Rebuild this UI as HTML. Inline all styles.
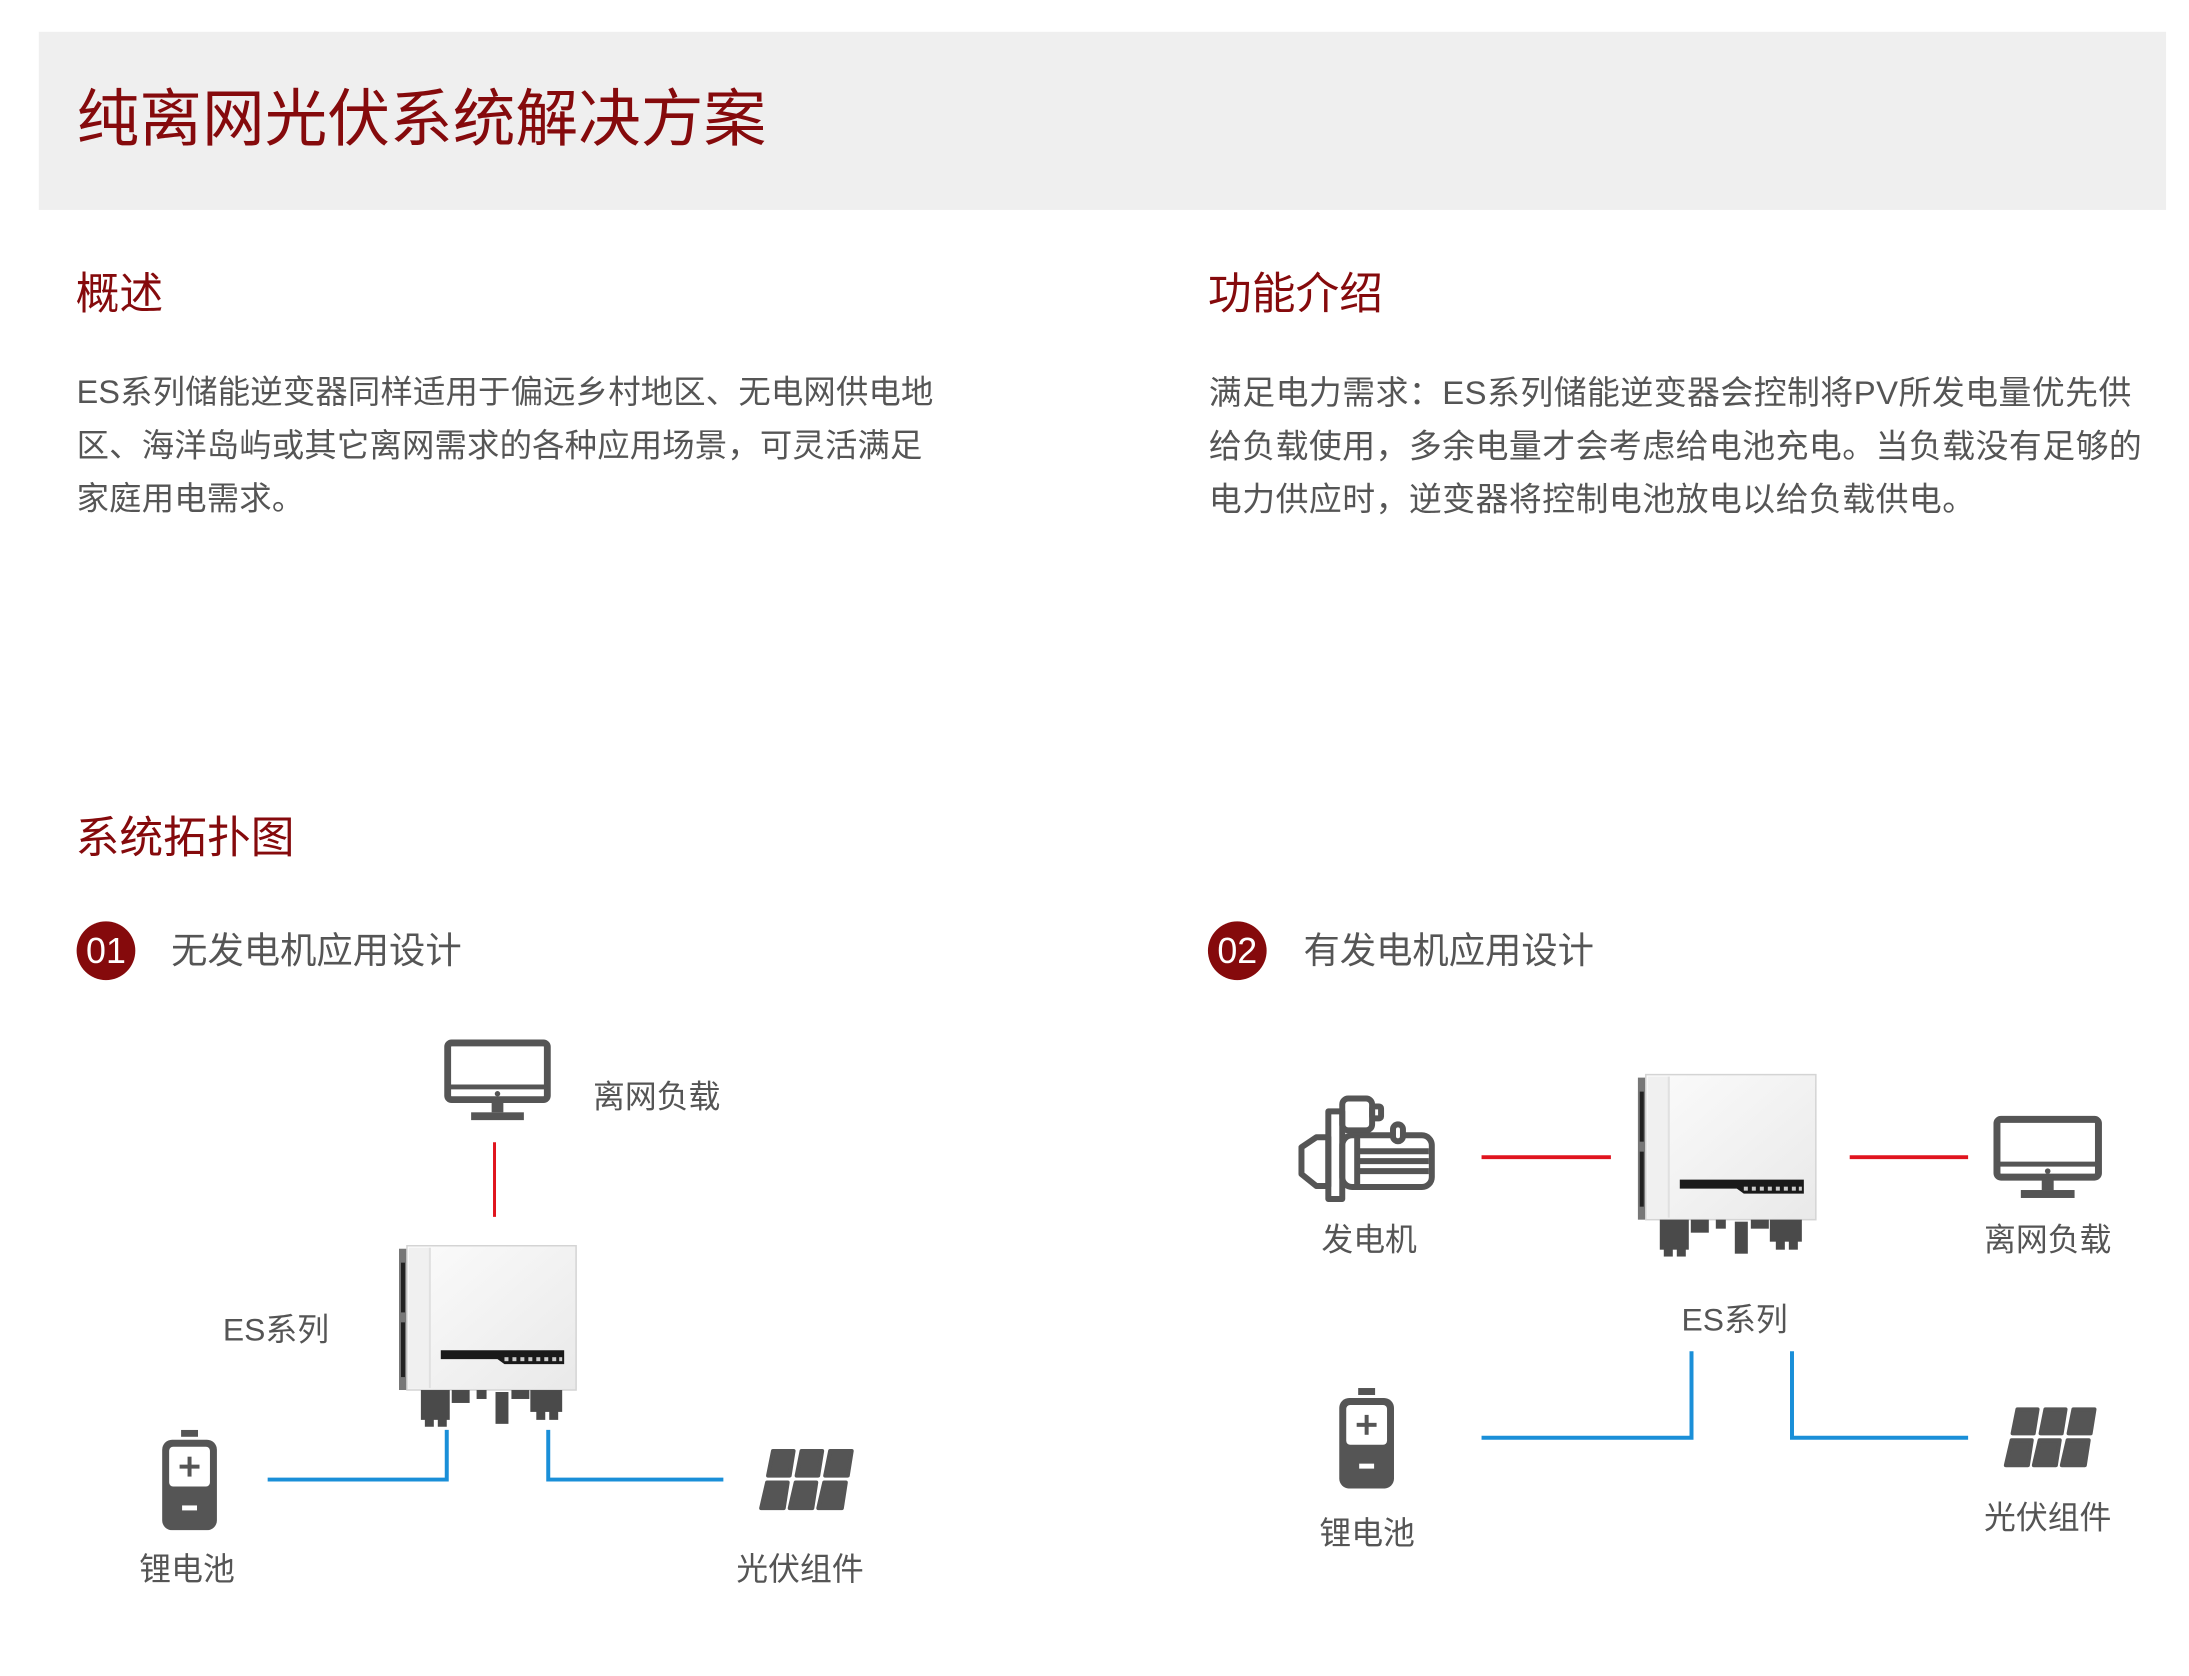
<!DOCTYPE html>
<html><head><meta charset="utf-8">
<style>
html,body{margin:0;padding:0;background:#fff;}
body{width:2189px;height:1676px;position:relative;overflow:hidden;font-family:"Liberation Sans","Noto Sans CJK SC",sans-serif;}
#w{position:absolute;left:0;top:0;width:2189px;height:1676px;transform:scale(0.995);transform-origin:0 0;}
.t{position:absolute;white-space:nowrap;}
.red{color:#850a0c;}
.g{color:#555;}
.band{position:absolute;left:39px;top:32px;width:2138px;height:179px;background:#efefef;}
.circ{position:absolute;width:59px;height:59px;border-radius:50%;background:#850a0c;color:#fff;font-size:36px;line-height:59px;text-align:center;}
svg{position:absolute;left:0;top:0;}
</style></head><body><div id="w">
<div class="band"></div>
<div class="t red" style="left:77px;top:89px;font-size:63px;line-height:63px;">纯离网光伏系统解决方案</div>
<div class="t red" style="left:76px;top:274px;font-size:44px;line-height:44px;">概述</div>
<div class="t red" style="left:1214px;top:274px;font-size:44px;line-height:44px;">功能介绍</div>
<div class="t g" style="left:77px;top:368px;font-size:32.5px;line-height:53.5px;letter-spacing:0.2px;">ES系列储能逆变器同样适用于偏远乡村地区、无电网供电地<br>区、海洋岛屿或其它离网需求的各种应用场景，可灵活满足<br>家庭用电需求。</div>
<div class="t g" style="left:1215px;top:368px;font-size:33px;line-height:53.5px;letter-spacing:0.5px;">满足电力需求：ES系列储能逆变器会控制将PV所发电量优先供<br>给负载使用，多余电量才会考虑给电池充电。当负载没有足够的<br>电力供应时，逆变器将控制电池放电以给负载供电。</div>
<div class="t red" style="left:76px;top:821px;font-size:44px;line-height:44px;">系统拓扑图</div>
<div class="circ" style="left:77px;top:926px;">01</div>
<div class="t g" style="left:172px;top:937px;font-size:36.5px;line-height:37px;">无发电机应用设计</div>
<div class="circ" style="left:1214px;top:926px;">02</div>
<div class="t g" style="left:1310px;top:937px;font-size:36.5px;line-height:37px;">有发电机应用设计</div>

<div class="t g" style="left:596px;top:1086px;font-size:32px;line-height:32px;">离网负载</div>
<div class="t g" style="left:224px;top:1320px;font-size:32px;line-height:32px;">ES系列</div>
<div class="t g" style="left:140px;top:1561px;font-size:32px;line-height:32px;">锂电池</div>
<div class="t g" style="left:740px;top:1561px;font-size:32px;line-height:32px;">光伏组件</div>

<div class="t g" style="left:1328px;top:1230px;font-size:32px;line-height:32px;">发电机</div>
<div class="t g" style="left:1994px;top:1230px;font-size:32px;line-height:32px;">离网负载</div>
<div class="t g" style="left:1690px;top:1310px;font-size:32px;line-height:32px;">ES系列</div>
<div class="t g" style="left:1326px;top:1525px;font-size:32px;line-height:32px;">锂电池</div>
<div class="t g" style="left:1994px;top:1509px;font-size:32px;line-height:32px;">光伏组件</div>

<svg width="2189" height="1676" viewBox="0 0 2189 1676">
<defs>
<linearGradient id="gb" x1="0" y1="0" x2="1" y2="1"><stop offset="0" stop-color="#fbfbfb"/><stop offset="1" stop-color="#e9e9e9"/></linearGradient>
<symbol id="inv" viewBox="0 0 180 185">
<rect x="0" y="6" width="10" height="142" fill="#777"/>
<rect x="2" y="20" width="4" height="50" fill="#222"/>
<rect x="2" y="80" width="4" height="55" fill="#222"/>
<rect x="8" y="3" width="170" height="145" fill="url(#gb)" stroke="#d4d4d4" stroke-width="1.5"/>
<rect x="10" y="5" width="22" height="141" fill="#f0f0f0"/>
<rect x="30" y="5" width="2" height="141" fill="#e0e0e0"/>
<path d="M42 108 H166 V122 H106 L99 117 H42 Z" fill="#1a1a1a"/>
<g fill="#ccc"><rect x="106" y="115" width="4" height="4"/><rect x="114" y="115" width="4" height="4"/><rect x="122" y="115" width="4" height="4"/><rect x="130" y="115" width="4" height="4"/><rect x="138" y="115" width="4" height="4"/><rect x="146" y="115" width="4" height="4"/><rect x="154" y="115" width="4" height="4"/><rect x="161" y="115" width="3" height="4"/></g>
<g fill="#4a4a4a">
<rect x="22" y="148" width="29" height="30"/><rect x="26" y="176" width="9" height="9"/><rect x="39" y="176" width="9" height="9"/>
<rect x="53" y="148" width="18" height="13"/>
<rect x="78" y="148" width="10" height="9"/>
<rect x="97" y="150" width="13" height="32"/>
<rect x="113" y="148" width="18" height="9"/>
<rect x="132" y="148" width="32" height="22"/><rect x="138" y="168" width="9" height="10"/><rect x="151" y="168" width="9" height="10"/>
</g>
</symbol>
<symbol id="mon" viewBox="0 0 110 84">
<rect x="4" y="4" width="102" height="58" rx="4" fill="none" stroke="#555" stroke-width="7"/>
<line x1="4" y1="49" x2="106" y2="49" stroke="#555" stroke-width="5"/>
<circle cx="55" cy="56" r="2.8" fill="#555"/>
<rect x="49" y="62" width="12" height="13" fill="#555"/>
<rect x="28" y="75" width="54" height="8" fill="#555"/>
</symbol>
<symbol id="bat" viewBox="0 0 59 101">
<rect x="21" y="0" width="17" height="7" fill="#555"/>
<rect x="2" y="10" width="55" height="91" rx="10" fill="#555"/>
<rect x="9" y="17" width="41" height="40" rx="4" fill="#fff"/>
<rect x="27.5" y="27" width="4" height="20" fill="#555"/>
<rect x="19.5" y="35" width="20" height="4" fill="#555"/>
<rect x="22" y="76" width="15" height="5" fill="#fff"/>
</symbol>
<symbol id="sol" viewBox="0 0 100 64">
<g fill="#555" stroke="#555" stroke-width="4" stroke-linejoin="round">
<polygon points="17,3 38,3 34,28 12,28"/><polygon points="46,3 67,3 63,28 41,28"/><polygon points="75,3 97,3 93,28 70,28"/>
<polygon points="11,35 32,35 28,61 5,61"/><polygon points="40,35 61,35 57,61 34,61"/><polygon points="69,35 91,35 87,61 63,61"/>
</g>
</symbol>
</defs>

<use href="#mon" x="446" y="1044" width="108" height="83"/>
<line x1="497" y1="1148" x2="497" y2="1223" stroke="#e0141e" stroke-width="3"/>
<use href="#inv" x="401" y="1249" width="180" height="185"/>
<polyline points="449,1437 449,1487 269,1487" fill="none" stroke="#1a8fd8" stroke-width="4"/>
<polyline points="551,1437 551,1487 727,1487" fill="none" stroke="#1a8fd8" stroke-width="4"/>
<use href="#bat" x="161" y="1437" width="59" height="101"/>
<use href="#sol" x="760" y="1455" width="99" height="64"/>

<g transform="translate(1298,1095)" fill="none" stroke="#555" stroke-width="6" stroke-linejoin="round">
<polygon points="10,58 25,48 37,48 37,97 25,97 10,85"/>
<rect x="37" y="22" width="14" height="88"/>
<rect x="51" y="9" width="30" height="32" rx="6"/>
<rect x="81" y="17" width="9" height="12" rx="2"/>
<rect x="51" y="46" width="90" height="52" rx="10"/>
<line x1="66" y1="46" x2="66" y2="98"/>
<line x1="66" y1="62" x2="138" y2="62"/>
<line x1="66" y1="72" x2="138" y2="72"/>
<line x1="66" y1="82" x2="138" y2="82"/>
<rect x="102" y="35" width="10" height="17" rx="5" fill="#fff"/>
</g>
<line x1="1489" y1="1163" x2="1619" y2="1163" stroke="#e0141e" stroke-width="4"/>
<use href="#inv" x="1646" y="1077" width="181" height="186"/>
<line x1="1859" y1="1163" x2="1978" y2="1163" stroke="#e0141e" stroke-width="4"/>
<use href="#mon" x="2003" y="1121" width="110" height="84"/>
<polyline points="1700,1358 1700,1445 1489,1445" fill="none" stroke="#1a8fd8" stroke-width="4"/>
<polyline points="1801,1358 1801,1445 1978,1445" fill="none" stroke="#1a8fd8" stroke-width="4"/>
<use href="#bat" x="1344" y="1395" width="59" height="101"/>
<use href="#sol" x="2011" y="1413" width="97" height="63"/>
</svg>
</div></body></html>
